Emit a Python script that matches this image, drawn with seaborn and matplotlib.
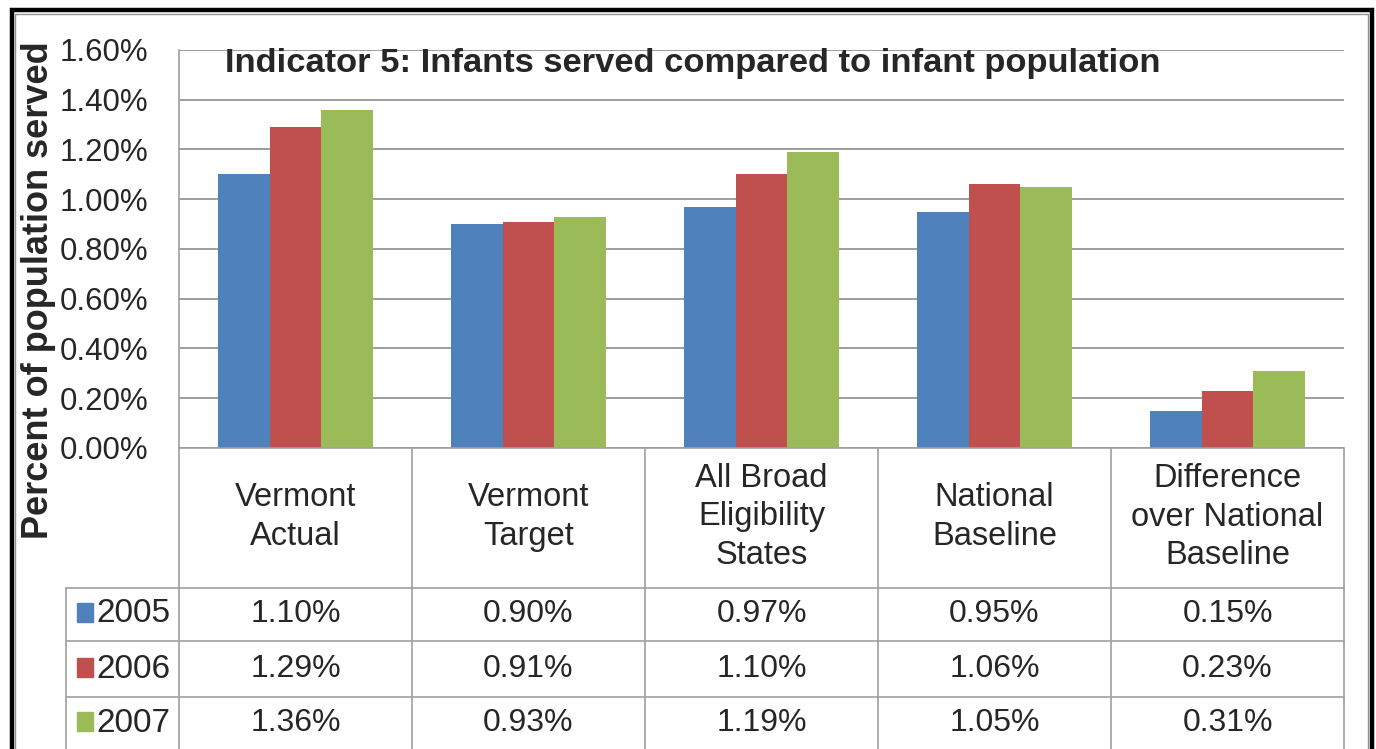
import matplotlib
matplotlib.use("Agg")
import matplotlib.pyplot as plt
import matplotlib.transforms as mtransforms
from matplotlib.patches import Rectangle
from matplotlib.lines import Line2D
import numpy as np
import pandas as pd
import seaborn as sns

categories = ["Vermont\nActual", "Vermont\nTarget", "All Broad\nEligibility\nStates",
              "National\nBaseline", "Difference\nover National\nBaseline"]
years = ["2005", "2006", "2007"]
values_2005 = [1.10, 0.90, 0.97, 0.95, 0.15]
values_2006 = [1.29, 0.91, 1.10, 1.06, 0.23]
values_2007 = [1.36, 0.93, 1.19, 1.05, 0.31]
colors = ["#4F81BD", "#C0504D", "#9BBB59"]

rows = []
for yr, vals in zip(years, [values_2005, values_2006, values_2007]):
    for cat, v in zip(categories, vals):
        rows.append({"category": cat, "year": yr, "value": v})
df = pd.DataFrame(rows)

sns.set_theme(style="white")
plt.rcParams["font.family"] = ["Liberation Sans", "DejaVu Sans"]

W, H = 1376, 749
fig = plt.figure(figsize=(W / 100, H / 100), dpi=100)
fig.patch.set_facecolor("white")

# plot area in pixels
px_l, px_r, px_t, px_b = 179, 1344, 50, 448
ax = fig.add_axes([px_l / W, 1 - px_b / H, (px_r - px_l) / W, (px_b - px_t) / H])

sns.barplot(data=df, x="category", y="value", hue="year", hue_order=years,
            palette=colors, width=0.665, gap=0, linewidth=0, saturation=1,
            ax=ax, legend=False)

ax.set_xlim(-0.5, len(categories) - 0.5)
ax.set_ylim(0, 1.6)
ticks = np.arange(0, 1.61, 0.2)
ax.set_yticks(ticks)
ax.set_yticklabels([f"{t:.2f}%" for t in ticks], fontsize=22.5)
ax.tick_params(axis="y", length=0, pad=22)
ax.set_xticks([])
ax.set_xlabel("")
ax.set_ylabel("")
ax.yaxis.grid(True, color="#8c8c8c", linewidth=1.2)
ax.set_axisbelow(True)
for s in ["top", "right"]:
    ax.spines[s].set_visible(False)
ax.spines["left"].set_color("#a0a0a0")
ax.spines["bottom"].set_color("#a0a0a0")
ax.spines["left"].set_linewidth(1.2)
ax.spines["bottom"].set_linewidth(1.2)

plot_h = px_b - px_t


def ya(ypx):
    return (px_b - ypx) / plot_h


ax.text((225 - px_l) / (px_r - px_l), ya(64),
        "Indicator 5: Infants served compared to infant population",
        transform=ax.transAxes, fontsize=24.8, fontweight="bold", va="center",
        ha="left")

fig.text(39 / W, 1 - 290 / H, "Percent of population served", rotation=90,
         fontsize=26, fontweight="bold", ha="center", va="center")

# data table under the plot
tr = mtransforms.blended_transform_factory(ax.transData, ax.transAxes)
unit = (px_r - px_l) / len(categories)

grid_c = "#a0a0a0"
header_bot, row_lines, table_bot = 588, [641, 697], 760
legend_left = -0.5 - (px_l - 66) / unit
n = len(categories)

for i in range(n + 1):
    ax.add_line(Line2D([i - 0.5, i - 0.5], [ya(px_b), ya(table_bot)], transform=tr,
                       color=grid_c, lw=1.2, clip_on=False))
ax.add_line(Line2D([legend_left, legend_left], [ya(header_bot), ya(table_bot)],
                   transform=tr, color=grid_c, lw=1.2, clip_on=False))
for yl in [header_bot] + row_lines:
    ax.add_line(Line2D([legend_left, n - 0.5], [ya(yl), ya(yl)], transform=tr,
                       color=grid_c, lw=1.2, clip_on=False))

for i, cat in enumerate(categories):
    ax.text(i, ya((px_b + header_bot) / 2 - 1), cat, transform=tr, ha="center",
            va="center", fontsize=23.5, linespacing=1.32, clip_on=False)

row_centers = [614, 669, 723]
for yr, vals, c, yc in zip(years, [values_2005, values_2006, values_2007], colors,
                           row_centers):
    ax.add_patch(Rectangle((legend_left + 11 / unit, ya(yc + 8)), 16 / unit,
                           19 / plot_h, transform=tr, color=c, clip_on=False))
    ax.text(legend_left + 30 / unit, ya(yc), yr, transform=tr, ha="left",
            va="center", fontsize=24, clip_on=False)
    for i, v in enumerate(vals):
        ax.text(i, ya(yc), f"{v:.2f}%", transform=tr, ha="center", va="center",
                fontsize=23, clip_on=False)

# outer frame
fig.add_artist(Rectangle((12 / W, -0.05), (1372 - 12) / W, 1.05 - 10 / H,
                         transform=fig.transFigure, fill=False, edgecolor="black",
                         lw=3.2))
fig.add_artist(Rectangle((15.5 / W, -0.05), (1368 - 15.5) / W, 1.05 - 14 / H,
                         transform=fig.transFigure, fill=False, edgecolor="#909090",
                         lw=1.0))

fig.savefig("out.png", dpi=100)
